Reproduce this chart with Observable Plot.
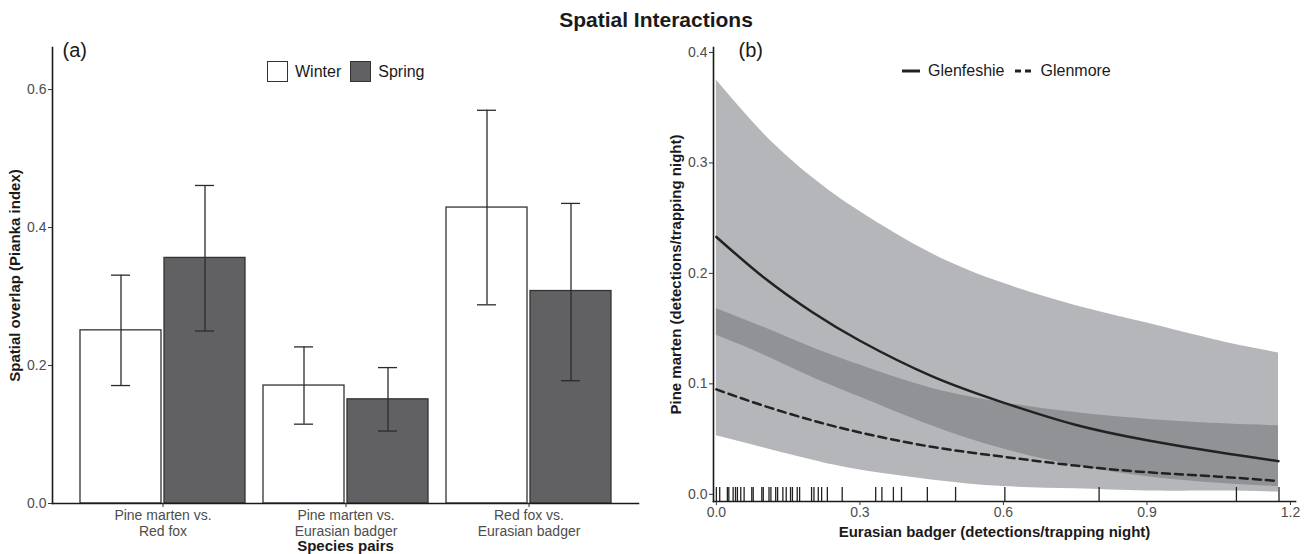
<!DOCTYPE html>
<html><head><meta charset="utf-8">
<script src="https://cdn.jsdelivr.net/npm/d3@7"></script>
<script src="https://cdn.jsdelivr.net/npm/@observablehq/plot@0.6"></script>
<style>
body{margin:0;background:#fff;font-family:"Liberation Sans",Arial,sans-serif;}
#wrap{position:relative;width:1312px;height:554px;overflow:hidden;background:#fff}
#title{height:38px;line-height:40px;text-align:center;font-weight:bold;font-size:21px;color:#1a1a1a}
#row{display:flex}
.legend{position:absolute;display:flex;align-items:center;font-size:16px;color:#1a1a1a;white-space:nowrap}
.sq{display:inline-block;width:19px;height:19px;border:1.4px solid #333;margin-right:7px}
.lab{margin-right:9px}
</style></head><body>
<div id="wrap">
  <div id="title">Spatial Interactions</div>
  <div id="row"><div id="pa"></div><div id="pb"></div></div>
  <div class="legend" id="lega" style="left:267px;top:61px"></div>
  <div class="legend" id="legb" style="left:901px;top:62px"></div>
</div>
<script>
// ---------- Panel (a) data ----------
const groups = ["Pine marten vs.\nRed fox", "Pine marten vs.\nEurasian badger", "Red fox vs.\nEurasian badger"];
const seasons = ["Winter", "Spring"];
const seasonFills = ["#ffffff", "#616163"];
const winterOverlap = [0.251, 0.171, 0.429];
const winterLower   = [0.171, 0.115, 0.288];
const winterUpper   = [0.331, 0.227, 0.570];
const springOverlap = [0.356, 0.151, 0.308];
const springLower   = [0.250, 0.105, 0.178];
const springUpper   = [0.461, 0.197, 0.435];
const yTicksA = [0, 0.2, 0.4, 0.6];

// ---------- Panel (b) data ----------
const sites = ["Glenfeshie", "Glenmore"];
const badgerX        = [0, 0.1, 0.2, 0.3, 0.45, 0.6, 0.75, 0.9, 1.05, 1.175];
const glenfeshieFit  = [0.233, 0.196, 0.165, 0.139, 0.107, 0.083, 0.063, 0.049, 0.038, 0.030];
const glenfeshieLow  = [0.144, 0.126, 0.106, 0.088, 0.062, 0.041, 0.026, 0.016, 0.010, 0.007];
const glenfeshieHigh = [0.375, 0.326, 0.287, 0.256, 0.218, 0.191, 0.171, 0.155, 0.139, 0.128];
const glenmoreFit    = [0.095, 0.080, 0.067, 0.056, 0.043, 0.034, 0.026, 0.020, 0.016, 0.012];
const glenmoreLow    = [0.053, 0.042, 0.031, 0.022, 0.013, 0.007, 0.005, 0.003, 0.003, 0.002];
const glenmoreHigh   = [0.168, 0.151, 0.133, 0.117, 0.096, 0.083, 0.074, 0.068, 0.064, 0.062];
const rugBadger = [0, 0.007, 0.023, 0.026, 0.035, 0.040, 0.044, 0.051, 0.058, 0.074, 0.077, 0.095, 0.098,
  0.110, 0.114, 0.124, 0.128, 0.139, 0.146, 0.155, 0.159, 0.169, 0.174, 0.199, 0.204, 0.213, 0.220, 0.232,
  0.263, 0.333, 0.346, 0.370, 0.387, 0.441, 0.500, 0.603, 0.800, 1.087, 1.176];
const xTicksB = [0, 0.3, 0.6, 0.9, 1.2];
const yTicksB = [0, 0.1, 0.2, 0.3, 0.4];

const FONT = '"Liberation Sans", Arial, sans-serif';
const INK = "#1a1a1a";
const TICKFILL = "#4d4d4d";
const TICKSIZE = 14;

// ---------- Panel (a) ----------
const barData = groups.map((g, i) => ({
  group: g,
  winter: winterOverlap[i], winterLo: winterLower[i], winterHi: winterUpper[i],
  spring: springOverlap[i], springLo: springLower[i], springHi: springUpper[i]
}));
const errStyle = {stroke: "#2b2b2b", strokeWidth: 1.3};
const plotA = Plot.plot({
  width: 650, height: 516,
  marginLeft: 52, marginRight: 12, marginTop: 9, marginBottom: 51,
  style: {fontFamily: FONT, fontSize: "14px", color: "#333", background: "white", overflow: "visible"},
  x: {domain: groups, paddingInner: 0.1, paddingOuter: 0.15, label: null},
  y: {domain: [0, 0.661], label: null},
  marks: [
    Plot.barY(barData, {x: "group", y: "winter", fill: seasonFills[0], stroke: "#333", strokeWidth: 1.3, insetRight: 84}),
    Plot.barY(barData, {x: "group", y: "spring", fill: seasonFills[1], stroke: "#333", strokeWidth: 1.3, insetLeft: 84}),
    Plot.ruleX(barData, {x: "group", y1: "winterLo", y2: "winterHi", dx: -42, ...errStyle}),
    Plot.ruleX(barData, {x: "group", y1: "springLo", y2: "springHi", dx: 42, ...errStyle}),
    Plot.tickY(barData, {x: "group", y: "winterLo", dx: -42, insetLeft: 73, insetRight: 73, ...errStyle}),
    Plot.tickY(barData, {x: "group", y: "winterHi", dx: -42, insetLeft: 73, insetRight: 73, ...errStyle}),
    Plot.tickY(barData, {x: "group", y: "springLo", dx: 42, insetLeft: 73, insetRight: 73, ...errStyle}),
    Plot.tickY(barData, {x: "group", y: "springHi", dx: 42, insetLeft: 73, insetRight: 73, ...errStyle}),
    Plot.frame({anchor: "left", stroke: INK, strokeWidth: 1.6}),
    Plot.frame({anchor: "bottom", stroke: INK, strokeWidth: 1.6}),
    Plot.axisX({tickSize: 4, tickPadding: 2, lineHeight: 1.1, fontSize: TICKSIZE, fill: TICKFILL, label: null}),
    Plot.axisY({ticks: yTicksA, tickSize: 4, tickPadding: 2, fontSize: TICKSIZE, tickFormat: d3.format(".1f"), fill: TICKFILL, label: null}),
    Plot.text(["(a)"], {frameAnchor: "top-left", textAnchor: "start", lineAnchor: "top", dx: 10, dy: -5, fontSize: 20, fill: INK}),
    Plot.text(["Spatial overlap (Pianka index)"], {frameAnchor: "left", textAnchor: "middle", rotate: -90, dx: -37, fontWeight: "bold", fontSize: 15, fill: INK}),
    Plot.text(["Species pairs"], {frameAnchor: "bottom", textAnchor: "middle", lineAnchor: "middle", dy: 43, fontWeight: "bold", fontSize: 15, fill: INK})
  ]
});
document.getElementById("pa").appendChild(plotA);

// ---------- Panel (b) ----------
const curveData = badgerX.map((x, i) => ({
  x, gf: glenfeshieFit[i], gfLo: glenfeshieLow[i], gfHi: glenfeshieHigh[i],
  gm: glenmoreFit[i], gmLo: glenmoreLow[i], gmHi: glenmoreHigh[i]
}));
const ribbon = {fill: "#6b6d73", fillOpacity: 0.5, curve: "natural"};
const plotB = Plot.plot({
  width: 662, height: 516,
  marginLeft: 63, marginRight: 17, marginTop: 9, marginBottom: 53,
  style: {fontFamily: FONT, fontSize: "14px", color: "#333", background: "white", overflow: "visible"},
  x: {domain: [-0.006, 1.2105], label: null},
  y: {domain: [-0.0065, 0.4045], label: null},
  marks: [
    Plot.areaY(curveData, {x: "x", y1: "gfLo", y2: "gfHi", ...ribbon}),
    Plot.areaY(curveData, {x: "x", y1: "gmLo", y2: "gmHi", ...ribbon}),
    Plot.line(curveData, {x: "x", y: "gf", stroke: "#222", strokeWidth: 2.5, curve: "natural"}),
    Plot.line(curveData, {x: "x", y: "gm", stroke: "#222", strokeWidth: 2.5, strokeDasharray: "8,5", curve: "natural"}),
    Plot.tickX(rugBadger, {x: d => d, insetTop: 440, stroke: "#222", strokeWidth: 1.3}),
    Plot.frame({anchor: "left", stroke: INK, strokeWidth: 1.6}),
    Plot.frame({anchor: "bottom", stroke: INK, strokeWidth: 1.6}),
    Plot.axisX({ticks: xTicksB, tickSize: 4, tickPadding: 2, fontSize: TICKSIZE, tickFormat: d3.format(".1f"), fill: TICKFILL, label: null}),
    Plot.axisY({ticks: yTicksB, tickSize: 4, tickPadding: 2, fontSize: TICKSIZE, tickFormat: d3.format(".1f"), fill: TICKFILL, label: null}),
    Plot.text(["(b)"], {frameAnchor: "top-left", textAnchor: "start", lineAnchor: "top", dx: 25, dy: -5, fontSize: 20, fill: INK}),
    Plot.text(["Pine marten (detections/trapping night)"], {frameAnchor: "left", textAnchor: "middle", rotate: -90, dx: -37, fontWeight: "bold", fontSize: 15, fill: INK}),
    Plot.text(["Eurasian badger (detections/trapping night)"], {frameAnchor: "bottom", textAnchor: "middle", lineAnchor: "middle", dy: 31, dx: -10, fontWeight: "bold", fontSize: 15, fill: INK})
  ]
});
document.getElementById("pb").appendChild(plotB);

// ---------- Legends ----------
const lega = document.getElementById("lega");
seasons.forEach((s, i) => {
  const sq = document.createElement("span"); sq.className = "sq"; sq.style.background = seasonFills[i];
  const t = document.createElement("span"); t.className = "lab"; t.textContent = s;
  lega.appendChild(sq); lega.appendChild(t);
});
const legb = document.getElementById("legb");
const dashes = [null, "6,4"];
sites.forEach((s, i) => {
  const svg = document.createElementNS("http://www.w3.org/2000/svg", "svg");
  svg.setAttribute("width", 20); svg.setAttribute("height", 10);
  svg.style.marginRight = "7px";
  const ln = document.createElementNS("http://www.w3.org/2000/svg", "line");
  ln.setAttribute("x1", 1); ln.setAttribute("x2", 19); ln.setAttribute("y1", 5); ln.setAttribute("y2", 5);
  ln.setAttribute("stroke", "#222"); ln.setAttribute("stroke-width", 3);
  if (dashes[i]) ln.setAttribute("stroke-dasharray", dashes[i]);
  svg.appendChild(ln);
  const t = document.createElement("span"); t.className = "lab"; t.textContent = s;
  legb.appendChild(svg); legb.appendChild(t);
});
</script>
</body></html>
